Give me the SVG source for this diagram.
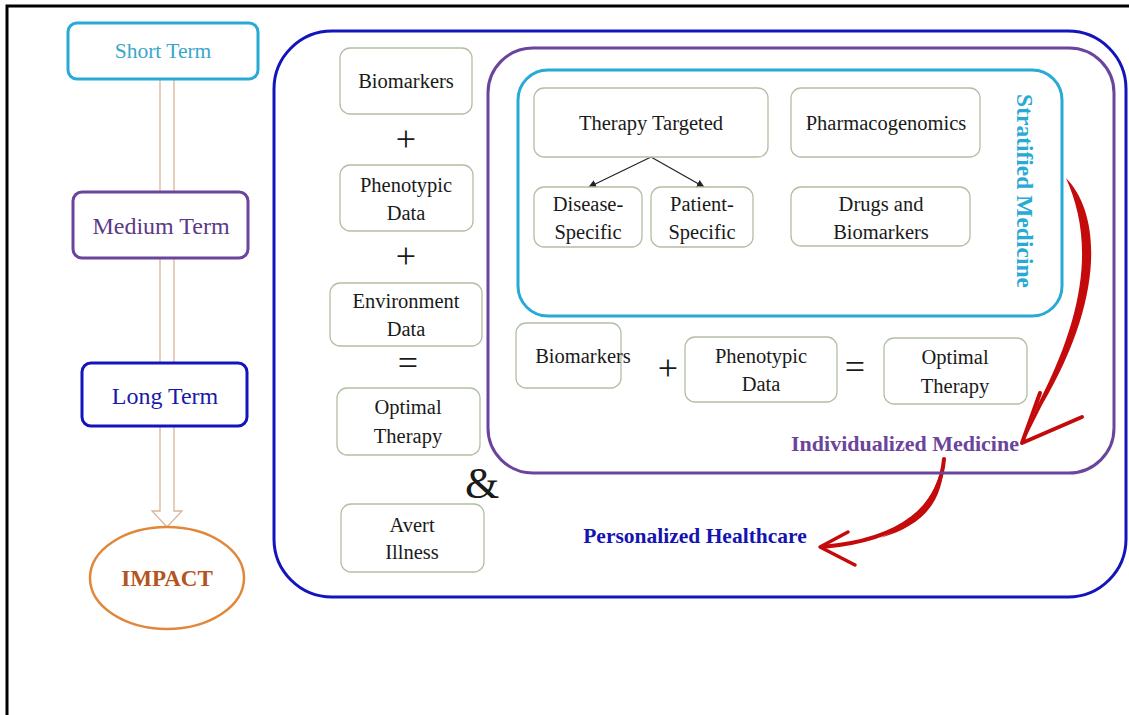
<svg xmlns="http://www.w3.org/2000/svg" width="1129" height="715" viewBox="0 0 1129 715">
<defs>
<style>
text{font-family:"Liberation Serif","DejaVu Serif",serif;text-anchor:middle;dominant-baseline:central}
.box{fill:#fff;stroke:#b2bfa3;stroke-width:1.3}
.t{font-size:20.5px;fill:#1a1a1a}
.op{font-size:36px;fill:#1a1a1a}
.red{fill:none;stroke:#c40a0a;stroke-linecap:round;stroke-linejoin:round}
</style>
<marker id="ah" viewBox="0 0 10 10" refX="9" refY="5" markerWidth="8" markerHeight="8" orient="auto" markerUnits="userSpaceOnUse"><path d="M0,0 L10,5 L0,10 Z" fill="#222"/></marker>
</defs>
<rect width="1129" height="715" fill="#fff"/>
<path d="M7,715 V6 H1129" fill="none" stroke="#000" stroke-width="3"/>

<g id="connectors">
<polygon points="160,79 160,511 152,511 167,527 182,511 174,511 174,79" fill="#fff" stroke="#d8b698" stroke-width="1.3"/>
<line x1="651" y1="157" x2="589" y2="187" stroke="#222" stroke-width="1.2" marker-end="url(#ah)"/>
<line x1="651" y1="157" x2="704" y2="187" stroke="#222" stroke-width="1.2" marker-end="url(#ah)"/>
<path d="M1066,178 C1102,215 1104,300 1042,405 L1024,441 L1038,404 C1092,300 1090,232 1066,178 Z" fill="#c40a0a"/>
<path class="red" stroke-width="4" d="M1040,393 L1022,443 L1082,417"/>
<path class="red" stroke-width="4" d="M944,459 C940,505 905,540 822,547"/>
<path d="M944,459 C944,500 925,525 880,538 C915,522 935,500 944,459 Z" fill="#c40a0a"/>
<path class="red" stroke-width="3.5" d="M848,532 L820,547 L855,565"/>
</g>

<g id="short-term"><rect x="68" y="23" width="190" height="56" rx="9" fill="#fff" stroke="#29a9d6" stroke-width="3"/><text x="163" y="51" font-size="21.5" fill="#3aa6cc">Short Term</text></g>
<g id="medium-term"><rect x="73" y="192" width="175" height="66" rx="9" fill="#fff" stroke="#6b449b" stroke-width="3"/><text x="161" y="226" font-size="24" fill="#5b3a86">Medium Term</text></g>
<g id="long-term"><rect x="82" y="363" width="165" height="63" rx="9" fill="#fff" stroke="#1414bd" stroke-width="3"/><text x="165" y="396" font-size="24" fill="#1a1aa8">Long Term</text></g>
<g id="impact"><ellipse cx="167" cy="578" rx="77" ry="51" fill="#fff" stroke="#e0883a" stroke-width="2.5"/><text x="167" y="578" font-size="23" font-weight="bold" fill="#b3551e">IMPACT</text></g>

<g id="personalized-healthcare"><rect x="274" y="31" width="852" height="566" rx="58" fill="none" stroke="#1414bd" stroke-width="3"/><text x="695" y="536" font-size="21.5" font-weight="bold" fill="#1414b0">Personalized Healthcare</text></g>
<g id="individualized-medicine"><rect x="488" y="48" width="626" height="425" rx="45" fill="none" stroke="#6b449b" stroke-width="3"/><text x="905" y="443" font-size="22" font-weight="bold" fill="#6b449b">Individualized Medicine</text></g>
<g id="stratified-medicine"><rect x="518" y="70" width="544" height="246" rx="30" fill="none" stroke="#29a9d6" stroke-width="3"/><text transform="translate(1025,191) rotate(90)" font-size="23.5" font-weight="bold" fill="#29a9d6">Stratified Medicine</text></g>

<g id="biomarkers-1"><rect class="box" x="340" y="48" width="132" height="66" rx="10"/><text class="t" x="406" y="81">Biomarkers</text></g>
<text class="op" x="406" y="139">+</text>
<g id="phenotypic-1"><rect class="box" x="340" y="165" width="133" height="66" rx="10"/><text class="t" x="406" y="185">Phenotypic</text><text class="t" x="406" y="213">Data</text></g>
<text class="op" x="406" y="256">+</text>
<g id="environment"><rect class="box" x="330" y="283" width="152" height="63" rx="10"/><text class="t" x="406" y="301">Environment</text><text class="t" x="406" y="329">Data</text></g>
<text class="op" x="408" y="363">=</text>
<g id="optimal-1"><rect class="box" x="337" y="388" width="143" height="67" rx="10"/><text class="t" x="408" y="407">Optimal</text><text class="t" x="408" y="436">Therapy</text></g>
<text x="482" y="483" font-size="44" fill="#1a1a1a">&amp;</text>
<g id="avert"><rect class="box" x="341" y="504" width="143" height="68" rx="10"/><text class="t" x="412" y="525">Avert</text><text class="t" x="412" y="552">Illness</text></g>

<g id="therapy-targeted"><rect class="box" x="534" y="88" width="234" height="69" rx="10"/><text class="t" x="651" y="123">Therapy Targeted</text></g>
<g id="pharmacogenomics"><rect class="box" x="791" y="88" width="189" height="69" rx="10"/><text class="t" x="886" y="123">Pharmacogenomics</text></g>
<g id="disease-specific"><rect class="box" x="534" y="187" width="108" height="60" rx="10"/><text class="t" x="588" y="204">Disease-</text><text class="t" x="588" y="232">Specific</text></g>
<g id="patient-specific"><rect class="box" x="651" y="187" width="102" height="60" rx="10"/><text class="t" x="702" y="204">Patient-</text><text class="t" x="702" y="232">Specific</text></g>
<g id="drugs-biomarkers"><rect class="box" x="791" y="187" width="179" height="59" rx="10"/><text class="t" x="881" y="204">Drugs and</text><text class="t" x="881" y="232">Biomarkers</text></g>

<g id="biomarkers-2"><rect class="box" x="516" y="323" width="105" height="65" rx="10"/><text class="t" x="583" y="356">Biomarkers</text></g>
<text class="op" x="668" y="368">+</text>
<g id="phenotypic-2"><rect class="box" x="685" y="337" width="152" height="65" rx="10"/><text class="t" x="761" y="356">Phenotypic</text><text class="t" x="761" y="384">Data</text></g>
<text class="op" x="855" y="367">=</text>
<g id="optimal-2"><rect class="box" x="884" y="338" width="143" height="66" rx="10"/><text class="t" x="955" y="357">Optimal</text><text class="t" x="955" y="386">Therapy</text></g>
</svg>
